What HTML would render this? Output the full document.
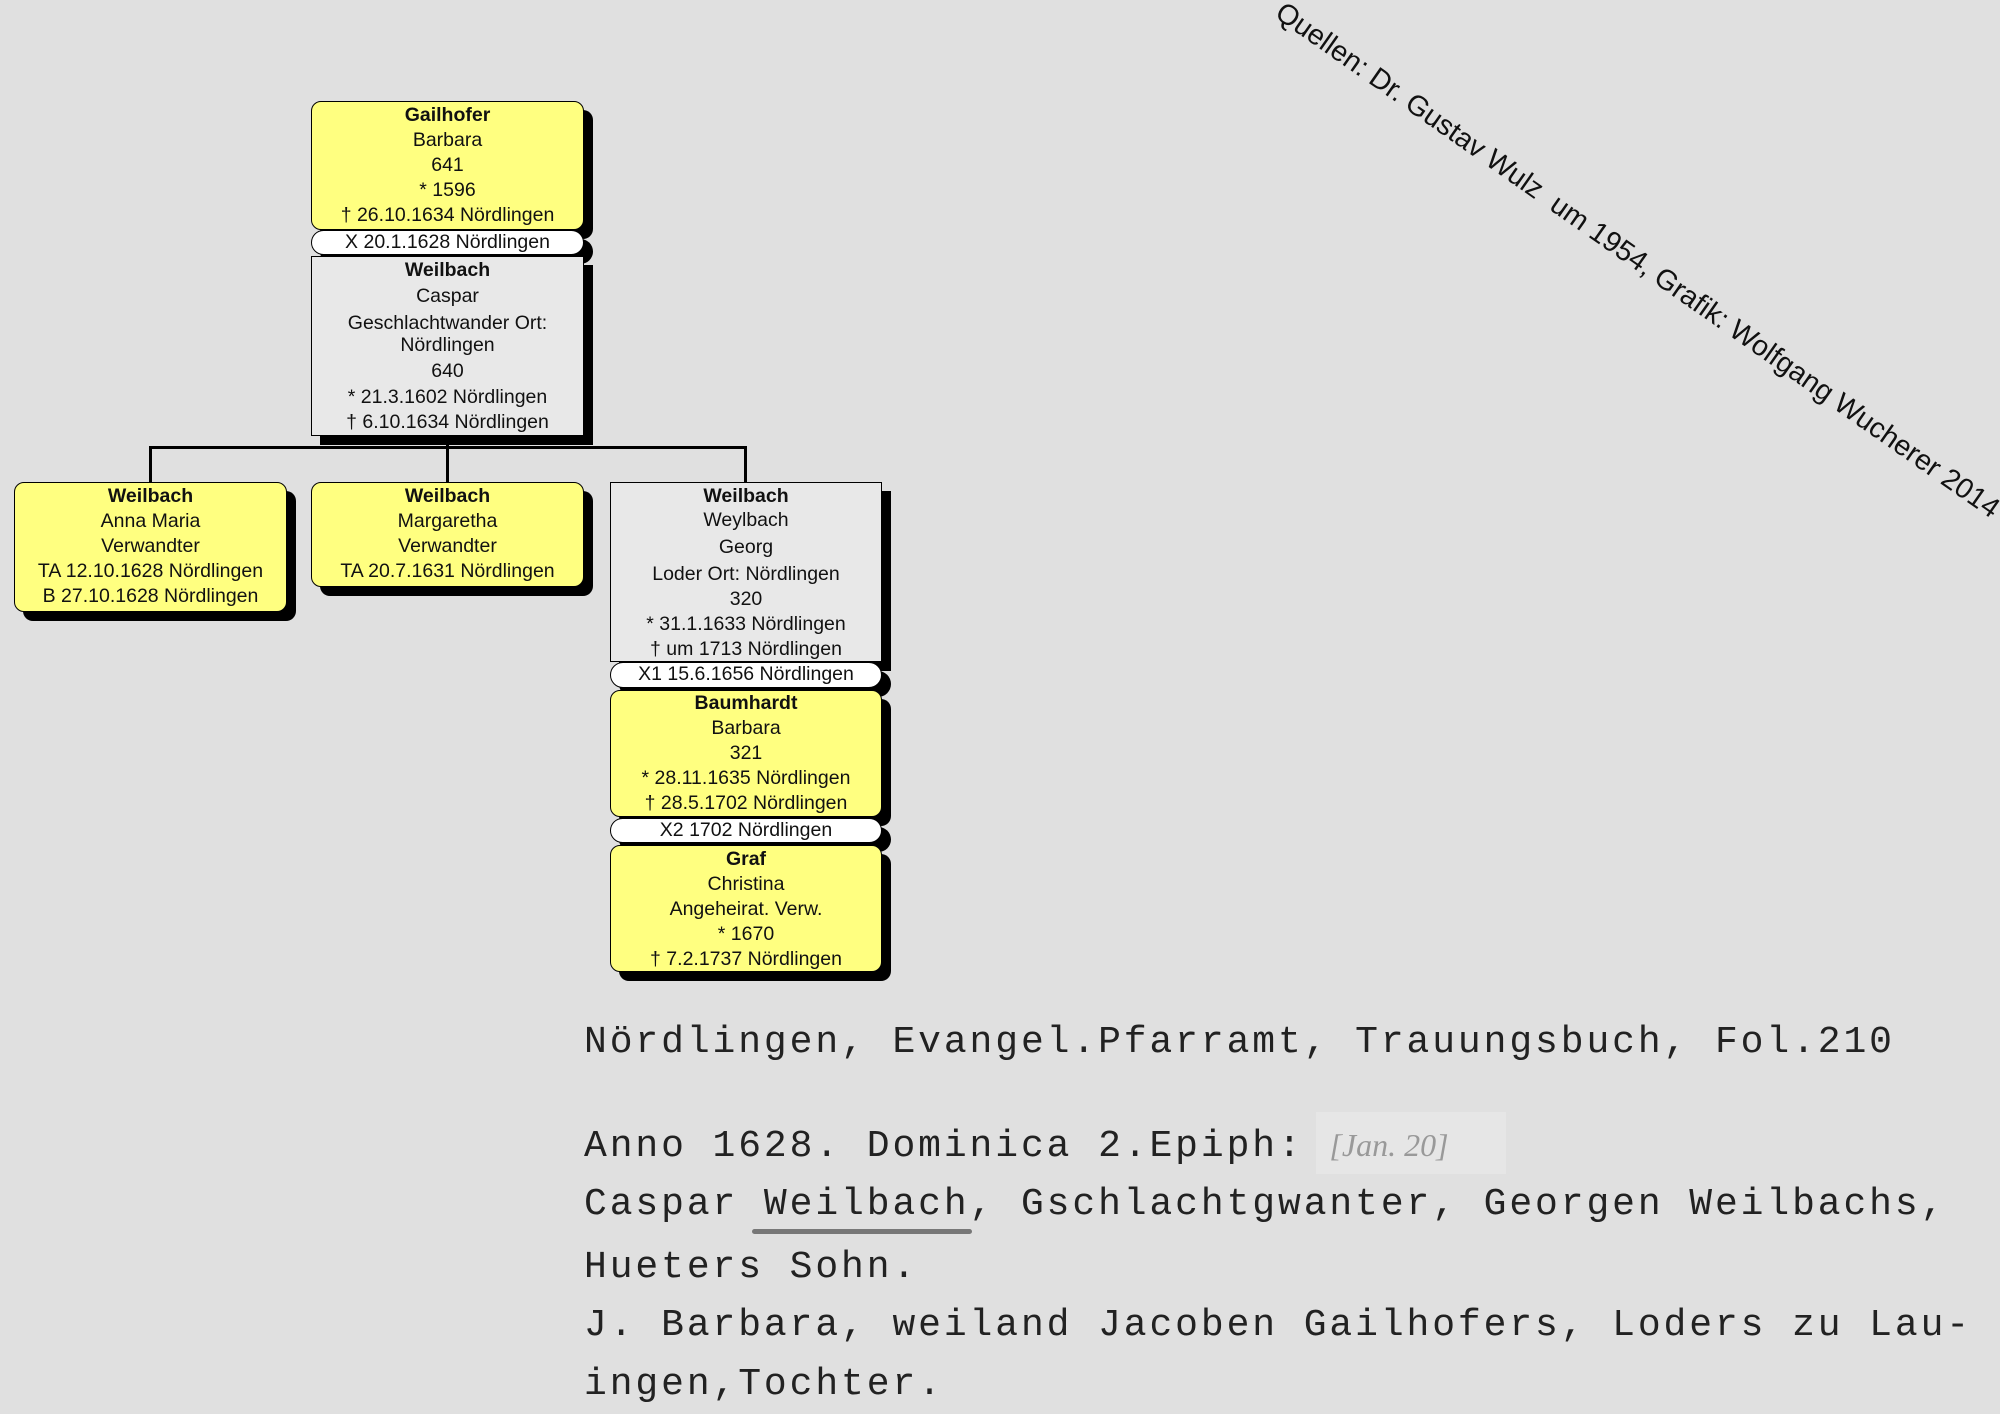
<!DOCTYPE html>
<html><head><meta charset="utf-8"><style>
body{margin:0;width:2000px;height:1414px;background:#e0e0e0;position:relative;overflow:hidden;font-family:"Liberation Sans",sans-serif;}
.b{position:absolute;border:1.5px solid #000;box-sizing:border-box;box-shadow:9px 9px 0 #000;text-align:center;font-size:19.5px;color:#111;line-height:25px;}
.y{background:#ffff80;border-radius:10px;}
.g{background:#e8e8e8;}
.p{background:#fff;border-radius:13px;line-height:22px;}
.b b{display:block;}
.l{position:absolute;background:#000;}
.t{position:absolute;left:584px;font-family:"Liberation Mono",monospace;font-size:38px;letter-spacing:2.9px;color:#222;line-height:50px;white-space:nowrap;}
</style></head><body>
<div class="b y" style="left:311px;top:101px;width:273px;height:129px;padding-top:1px"><b>Gailhofer</b>Barbara<br>641<br>* 1596<br>† 26.10.1634 Nördlingen</div>
<div class="b p" style="left:311px;top:230px;width:273px;height:25px">X 20.1.1628 Nördlingen</div>
<div class="b g" style="left:311px;top:256px;width:273px;height:180px;padding-top:0">
<b style="line-height:26px">Weilbach</b><div style="line-height:27px">Caspar</div><div style="line-height:22px;margin-top:2px">Geschlachtwander Ort:<br>Nördlingen</div><div style="line-height:27px;margin-top:2px">640</div><div style="line-height:25px">* 21.3.1602 Nördlingen<br>† 6.10.1634 Nördlingen</div></div>
<div class="l" style="left:446px;top:436px;width:3px;height:14px"></div>
<div class="l" style="left:149px;top:446px;width:598px;height:3px"></div>
<div class="l" style="left:149px;top:446px;width:3px;height:37px"></div>
<div class="l" style="left:446px;top:446px;width:3px;height:37px"></div>
<div class="l" style="left:744px;top:446px;width:3px;height:37px"></div>
<div class="b y" style="left:14px;top:482px;width:273px;height:130px;padding-top:1px"><b>Weilbach</b>Anna Maria<br>Verwandter<br>TA 12.10.1628 Nördlingen<br>B 27.10.1628 Nördlingen</div>
<div class="b y" style="left:311px;top:482px;width:273px;height:105px;padding-top:1px"><b>Weilbach</b>Margaretha<br>Verwandter<br>TA 20.7.1631 Nördlingen</div>
<div class="b g" style="left:610px;top:482px;width:272px;height:180px;padding-top:1px"><b style="line-height:25px">Weilbach</b><div style="line-height:22px">Weylbach</div><div style="line-height:29px;margin-top:2px">Georg</div>Loder Ort: Nördlingen<br>320<br>* 31.1.1633 Nördlingen<br>† um 1713 Nördlingen</div>
<div class="b p" style="left:610px;top:662px;width:272px;height:26px">X1 15.6.1656 Nördlingen</div>
<div class="b y" style="left:610px;top:690px;width:272px;height:127px;padding-top:0"><b>Baumhardt</b>Barbara<br>321<br>* 28.11.1635 Nördlingen<br>† 28.5.1702 Nördlingen</div>
<div class="b p" style="left:610px;top:818px;width:272px;height:25px">X2 1702 Nördlingen</div>
<div class="b y" style="left:610px;top:845px;width:272px;height:127px;padding-top:1px"><b>Graf</b>Christina<br>Angeheirat. Verw.<br>* 1670<br>† 7.2.1737 Nördlingen</div>
<div style="position:absolute;left:1288px;top:-4px;font-size:28.5px;color:#111;white-space:nowrap;transform-origin:0 0;transform:rotate(35deg)">Quellen: Dr. Gustav Wulz&nbsp; um 1954, Grafik: Wolfgang Wucherer 2014</div>
<div class="t" style="top:1018px">Nördlingen, Evangel.Pfarramt, Trauungsbuch, Fol.210</div>
<div style="position:absolute;left:1316px;top:1112px;width:190px;height:62px;background:#e6e6e6"></div>
<div class="t" style="top:1120px">Anno 1628. Dominica 2.Epiph: <span style="font-family:'Liberation Serif',serif;font-style:italic;font-weight:normal;color:#999;font-size:32px;letter-spacing:0">[Jan. 20]</span></div>
<div class="t" style="top:1180px">Caspar Weilbach, Gschlachtgwanter, Georgen Weilbachs,</div>
<div style="position:absolute;left:752px;top:1229px;width:220px;height:5px;background:#777;border-radius:3px"></div>
<div class="t" style="top:1243px">Hueters Sohn.</div>
<div class="t" style="top:1301px">J. Barbara, weiland Jacoben Gailhofers, Loders zu Lau-</div>
<div class="t" style="top:1360px">ingen,Tochter.</div>
</body></html>
